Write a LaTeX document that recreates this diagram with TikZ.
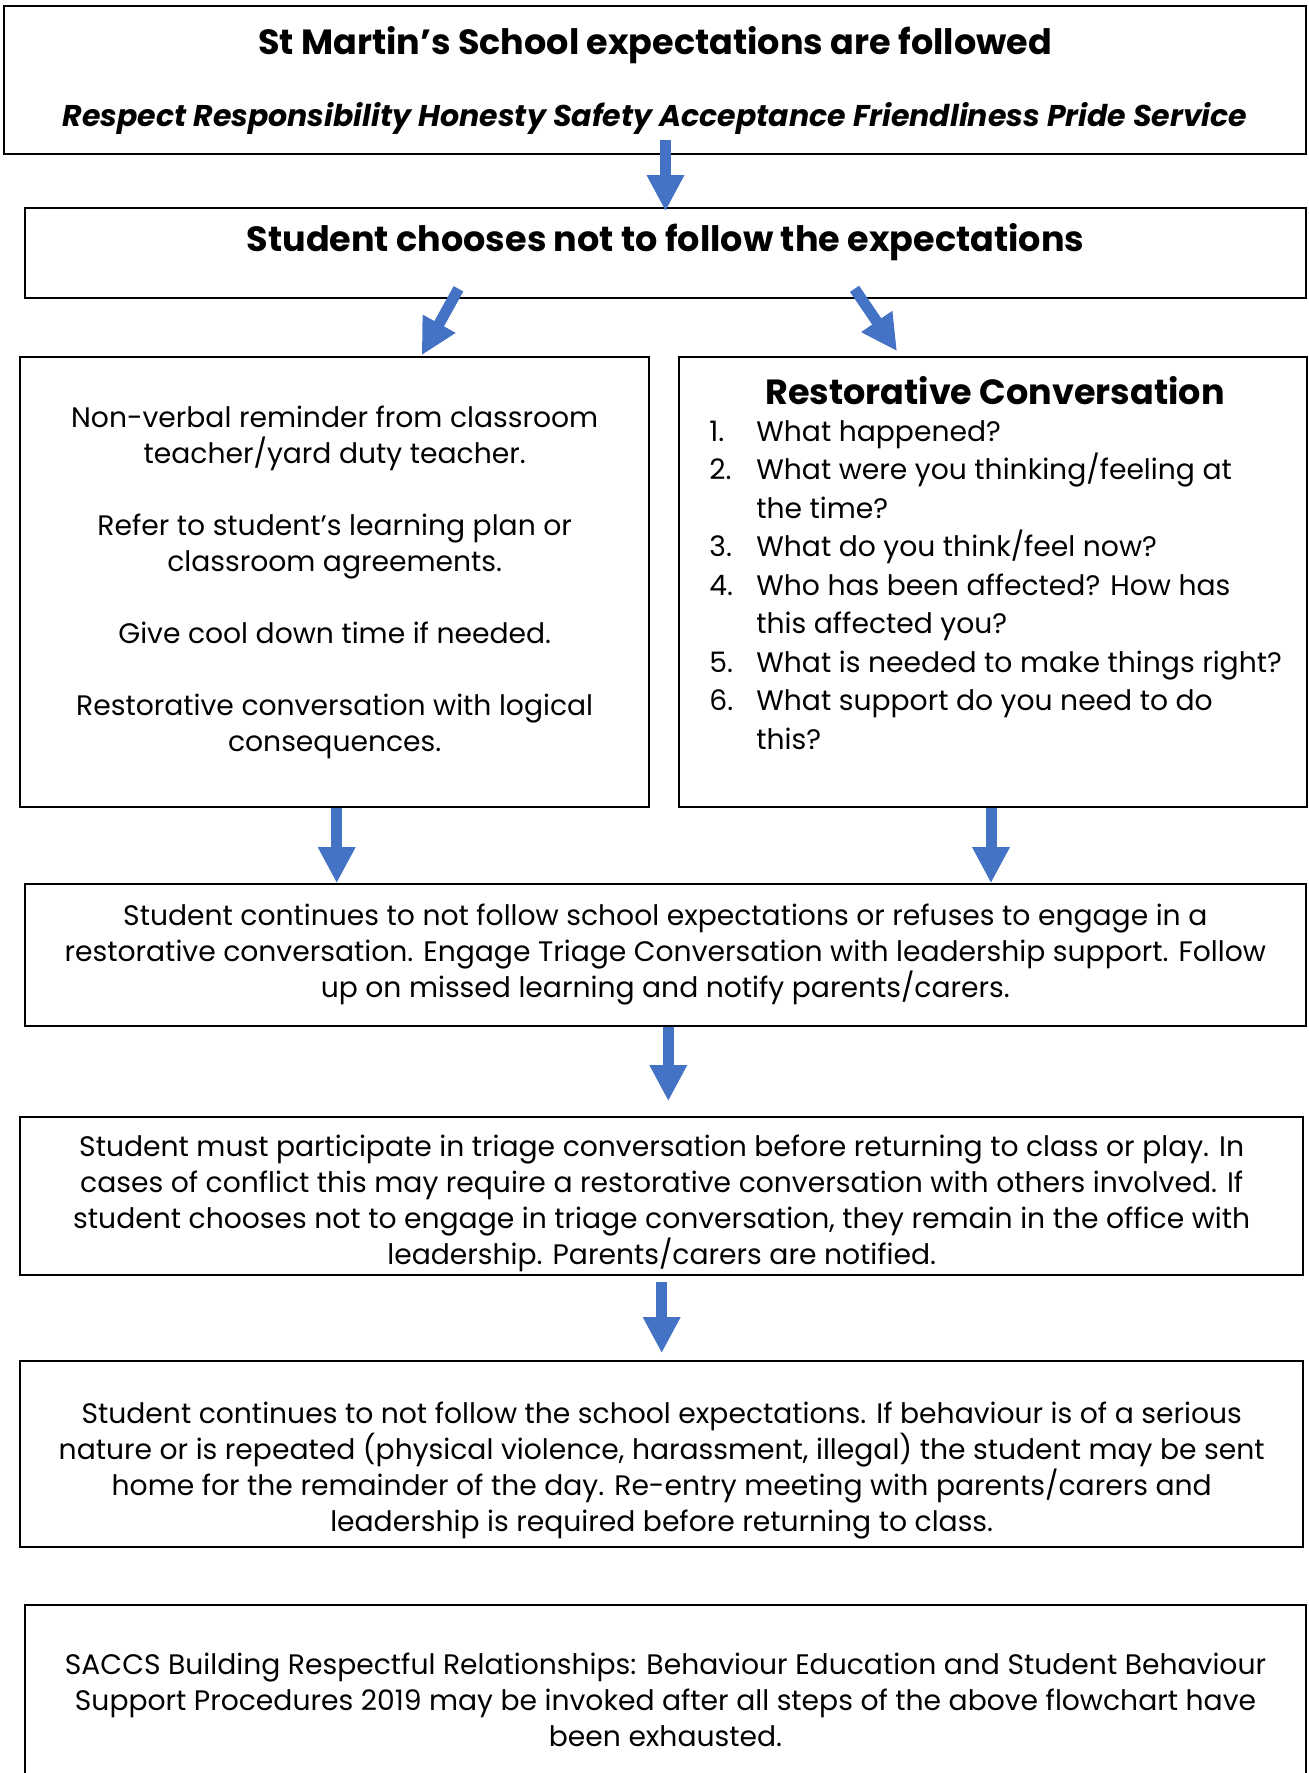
\documentclass[tikz,border=0pt]{standalone}
\usepackage{fontspec}
\setmainfont{Poppins}
\usepackage{xcolor}
\usetikzlibrary{arrows.meta,calc}
\definecolor{flowblue}{HTML}{4472C4}

\begin{document}
\begin{tikzpicture}[x=1pt,y=-1pt,
    box/.style={draw, line width=1.6pt, inner sep=0pt},
    body/.style={inner sep=0pt, align=center, font=\fontsize{28.2}{36}\selectfont},
    flow/.style={flowblue, line width=11pt, -{Triangle[width=35pt,length=36pt]}},
    head/.style={inner sep=0pt, font=\fontsize{35}{40}\selectfont\bfseries}]
    \useasboundingbox (0,0) rectangle (1309,1773);

    % boxes
    \node[box, body, minimum width=1302pt, minimum height=148pt] (top) at (655,80)
        {{\fontsize{35}{36}\selectfont\bfseries St Martin’s School expectations are followed}\\[36pt]
         {\fontsize{30}{36}\selectfont\bfseries\itshape Respect Responsibility Honesty Safety Acceptance Friendliness Pride Service}};
    \node[box, minimum width=1281pt, minimum height=90pt] (choose) at (665.5,253) {};
    \node[head] (choosetext) at ([yshift=11pt]choose.center) {Student chooses not to follow the expectations};
    \node[box, body, minimum width=629pt, minimum height=450pt] (left) at (334.7,582)
        {Non-verbal reminder from classroom\\ teacher/yard duty teacher.\\[36pt]
         Refer to student’s learning plan or\\ classroom agreements.\\[36pt]
         Give cool down time if needed.\\[36pt]
         Restorative conversation with logical\\ consequences.};
    \node[box, minimum width=628pt, minimum height=450pt] (right) at (993,582) {};
    \node[head, anchor=base] (rchead) at ($(right.north)+(2,48)$) {Restorative Conversation};
    \node[anchor=base west, inner sep=0pt, font=\fontsize{28.2}{38.5}\selectfont] (rclist)
        at ($(right.north west)+(31,85)$)
        {\begin{tabular}[t]{@{}p{47pt}@{}l@{}}
         1. & What happened?\\
         2. & What were you thinking/feeling at\\
            & the time?\\
         3. & What do you think/feel now?\\
         4. & Who has been affected? How has\\
            & this affected you?\\
         5. & What is needed to make things right?\\
         6. & What support do you need to do\\
            & this?
         \end{tabular}};
    \node[box, body, minimum width=1281pt, minimum height=142pt] (triage) at (665.3,955)
        {Student continues to not follow school expectations or refuses to engage in a\\
         restorative conversation. Engage Triage Conversation with leadership support. Follow\\
         up on missed learning and notify parents/carers.};
    \node[box, minimum width=1283pt, minimum height=158pt] (office) at (661.7,1196) {};
    \node[body] (officetext) at ([yshift=-7pt]office.center)
        {Student must participate in triage conversation before returning to class or play. In\\
         cases of conflict this may require a restorative conversation with others involved. If\\
         student chooses not to engage in triage conversation, they remain in the office with\\
         leadership. Parents/carers are notified.};
    \node[box, minimum width=1283pt, minimum height=186pt] (home) at (661.7,1454) {};
    \node[body] (hometext) at ([yshift=-17pt]home.center)
        {Student continues to not follow the school expectations. If behaviour is of a serious\\
         nature or is repeated (physical violence, harassment, illegal) the student may be sent\\
         home for the remainder of the day. Re-entry meeting with parents/carers and\\
         leadership is required before returning to class.};
    \node[box, body, minimum width=1281pt, minimum height=190pt] (saccs) at (665.5,1700)
        {SACCS Building Respectful Relationships: Behaviour Education and Student Behaviour\\
         Support Procedures 2019 may be invoked after all steps of the above flowchart have\\
         been exhausted.};

    % arrows
    \draw[flow] ($(choose.north |- top.south)+(0,-15)$) -- ([yshift=-4pt]choose.north);
    \draw[flow] ($(choose.south)+(-207,-10)$) -- ($(left.north)+(87,-1)$);
    \draw[flow] ($(choose.south)+(189,-10)$) -- ($(right.north)+(-96,-5)$);
    \draw[flow] ([xshift=2pt]left.south) -- ([xshift=2pt]left.south |- triage.north);
    \draw[flow] ([xshift=-2pt]right.south) -- ([xshift=-2pt]right.south |- triage.north);
    \draw[flow] ([xshift=3pt]triage.south) -- ($(triage.south |- office.north)+(3,-15)$);
    \draw[flow] ([yshift=-6pt]office.south) -- ($(office.south |- home.north)+(0,-7)$);
\end{tikzpicture}
\end{document}
